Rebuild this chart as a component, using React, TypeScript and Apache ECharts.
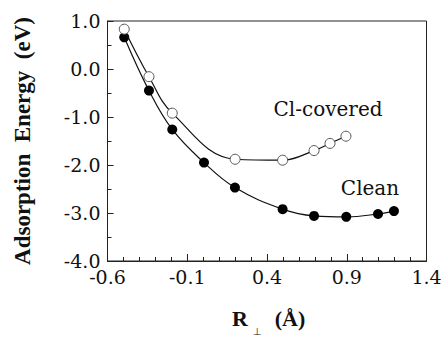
import React, { useEffect, useRef } from "react";
import * as echarts from "echarts";

const cleanX = [-0.495, -0.34, -0.194, 0.005, 0.199, 0.498, 0.695, 0.897, 1.096, 1.196];
const cleanY = [0.66, -0.45, -1.26, -1.95, -2.47, -2.92, -3.06, -3.08, -3.02, -2.96];
const clX = [-0.495, -0.34, -0.194, 0.2, 0.498, 0.695, 0.795, 0.895];
const clY = [0.83, -0.16, -0.92, -1.88, -1.9, -1.7, -1.55, -1.4];
const xTickLabels = ["-0.6", "-0.1", "0.4", "0.9", "1.4"];
const yTickLabels = ["-4.0", "-3.0", "-2.0", "-1.0", "0.0", "1.0"];

const SERIF_B = "Liberation Serif";
const SERIF = "DejaVu Serif";

export default function App() {
  const ref = useRef<HTMLDivElement>(null);
  useEffect(() => {
    if (!ref.current) return;
    const chart = echarts.init(ref.current, null, { renderer: "svg" });
    const zip = (xs: number[], ys: number[]) => xs.map((x, i) => [x, ys[i]]);
    chart.setOption({
      animation: false,
      backgroundColor: "#fff",
      grid: {
        left: 107.5,
        top: 21,
        width: 319,
        height: 240,
        show: true,
        borderColor: "#222",
        borderWidth: 1,
        backgroundColor: "transparent",
      },
      xAxis: {
        type: "value",
        min: -0.6,
        max: 1.4,
        interval: 0.5,
        axisLine: { show: true, onZero: false, lineStyle: { color: "#222", width: 1 } },
        axisTick: { show: true, inside: true, length: 7, lineStyle: { color: "#222" } },
        minorTick: { show: true, splitNumber: 5, length: 4, lineStyle: { color: "#222" } },
        splitLine: { show: false },
        axisLabel: {
          color: "#111",
          fontFamily: SERIF,
          fontSize: 19,
          margin: 6,
          formatter: (v: number) => {
            const i = Math.round((v + 0.6) / 0.5);
            return xTickLabels[i] ?? "";
          },
        },
      },
      yAxis: {
        type: "value",
        min: -4,
        max: 1,
        interval: 1,
        axisLine: { show: true, onZero: false, lineStyle: { color: "#222", width: 1 } },
        axisTick: { show: true, inside: true, length: 6, lineStyle: { color: "#222" } },
        minorTick: { show: true, splitNumber: 2, length: 4, lineStyle: { color: "#222" } },
        splitLine: { show: false },
        axisLabel: {
          color: "#111",
          fontFamily: SERIF,
          fontSize: 19,
          margin: 7,
          formatter: (v: number) => {
            const i = Math.round(v + 4);
            return yTickLabels[i] ?? "";
          },
        },
      },
      series: [
        {
          type: "line",
          name: "Clean",
          data: zip(cleanX, cleanY),
          smooth: 0.4,
          symbol: "circle",
          symbolSize: 10,
          lineStyle: { color: "#111", width: 1.2 },
          itemStyle: { color: "#000", borderColor: "#000", borderWidth: 0 },
          z: 3,
        },
        {
          type: "line",
          name: "Cl-covered",
          data: zip(clX, clY),
          smooth: 0.4,
          symbol: "circle",
          symbolSize: 10,
          lineStyle: { color: "#111", width: 1.2 },
          itemStyle: { color: "#fff", borderColor: "#555", borderWidth: 1 },
          z: 4,
        },
      ],
      graphic: [
        {
          type: "text",
          x: 22.5,
          y: 141,
          rotation: Math.PI / 2,
          style: {
            text: "Adsorption  Energy  (eV)",
            fontFamily: SERIF_B,
            fontWeight: "bold",
            fontSize: 23,
            fill: "#111",
            align: "center",
            verticalAlign: "middle",
          },
        },
        {
          type: "text",
          x: 328,
          y: 109,
          style: {
            text: "Cl-covered",
            fontFamily: SERIF,
            fontSize: 20,
            fill: "#111",
            align: "center",
            verticalAlign: "middle",
          },
        },
        {
          type: "text",
          x: 370,
          y: 188,
          style: {
            text: "Clean",
            fontFamily: SERIF,
            fontSize: 20,
            fill: "#111",
            align: "center",
            verticalAlign: "middle",
          },
        },
        {
          type: "text",
          x: 240,
          y: 318,
          style: {
            text: "R",
            fontFamily: SERIF_B,
            fontWeight: "bold",
            fontSize: 22,
            fill: "#111",
            align: "center",
            verticalAlign: "middle",
          },
        },
        {
          type: "text",
          x: 257,
          y: 326,
          style: {
            text: "⊥",
            fontFamily: "DejaVu Sans",
            fontSize: 10,
            fill: "#111",
            align: "center",
            verticalAlign: "top",
          },
        },
        {
          type: "text",
          x: 290,
          y: 318,
          style: {
            text: "(Å)",
            fontFamily: SERIF_B,
            fontWeight: "bold",
            fontSize: 22,
            fill: "#111",
            align: "center",
            verticalAlign: "middle",
          },
        },
      ],
    });
    return () => chart.dispose();
  }, []);
  return (
    <div
      ref={ref}
      style={{ position: "fixed", left: 0, top: 0, width: 448, height: 337, background: "#fff" }}
    />
  );
}
